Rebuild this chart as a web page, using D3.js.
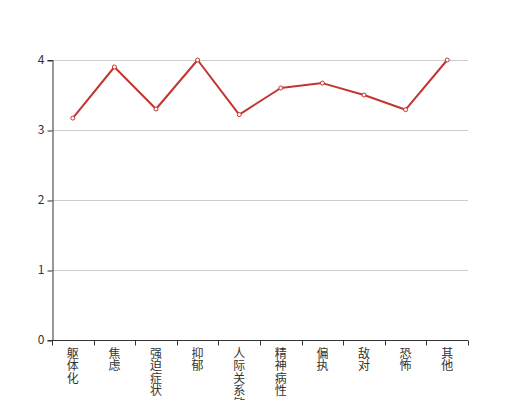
<!DOCTYPE html>
<html><head><meta charset="utf-8">
<script src="https://cdn.jsdelivr.net/npm/d3@7"></script>
<style>body{margin:0;background:#fff}</style>
</head><body><svg id="c" width="520" height="400"></svg>
<script>
const categories = ["躯体化","焦虑","强迫症状","抑郁","人际关系敏感","精神病性","偏执","敌对","恐怖","其他"];
const values = [3.17, 3.9, 3.3, 4.0, 3.22, 3.6, 3.67, 3.5, 3.29, 4.0];
const yTicks = [0,1,2,3,4];

const svg = d3.select("#c");
const m = {left:52, right:52, top:60, bottom:60};
const W = 520, H = 400;
const x = d3.scaleBand().domain(categories).range([m.left, W-m.right]);
const y = d3.scaleLinear().domain([0,4]).range([H-m.bottom, m.top]);
const font = "'Noto Sans CJK SC', sans-serif";

// grid
svg.append("g").selectAll("line").data(yTicks.filter(t=>t>0)).join("line")
  .attr("x1", m.left).attr("x2", W-m.right)
  .attr("y1", d=>y(d)+0.5).attr("y2", d=>y(d)+0.5)
  .attr("stroke", "#ccc").attr("stroke-width", 1);

// y axis
const ya = svg.append("g").attr("transform", `translate(${m.left+0.5},0)`)
  .call(d3.axisLeft(y).tickValues(yTicks).tickSize(5).tickPadding(3).tickFormat(d3.format("d")));
ya.select(".domain").attr("stroke", "#333");
ya.selectAll(".tick line").attr("stroke", "#333").attr("transform","translate(0,0.5)");
ya.selectAll(".tick text").attr("fill", "#333").style("font-size","12px").style("font-family", font);

// x axis
const xa = svg.append("g").attr("transform", `translate(0,${H-m.bottom+0.5})`);
xa.append("line").attr("x1", m.left).attr("x2", W-m.right).attr("stroke", "#333");
const bounds = categories.map(c=>x(c)).concat([x.range()[1]]);
xa.selectAll("line.t").data(bounds).join("line").attr("class","t")
  .attr("x1", d=>Math.round(d)+0.5).attr("x2", d=>Math.round(d)+0.5)
  .attr("y1", 0).attr("y2", 5).attr("stroke", "#333");
const lab = xa.selectAll("text").data(categories).join("text")
  .attr("fill", "#333").style("font-size","12px").style("font-family", font)
  .attr("text-anchor","middle");
lab.each(function(d){
  const t = d3.select(this);
  Array.from(d).forEach((ch,i)=>{
    t.append("tspan").attr("x", x(d)+x.bandwidth()/2).attr("y", 17 + i*12.5).text(ch);
  });
});

// line
const line = d3.line().x((d,i)=>x(categories[i])+x.bandwidth()/2).y(d=>y(d));
svg.append("path").datum(values).attr("d", line)
  .attr("fill","none").attr("stroke","#c23531").attr("stroke-width",2).attr("stroke-linejoin","round");
svg.append("g").selectAll("circle").data(values).join("circle")
  .attr("cx",(d,i)=>x(categories[i])+x.bandwidth()/2).attr("cy", d=>y(d)).attr("r",2)
  .attr("fill","#fff").attr("stroke","#c23531").attr("stroke-width",1);
</script></body></html>
